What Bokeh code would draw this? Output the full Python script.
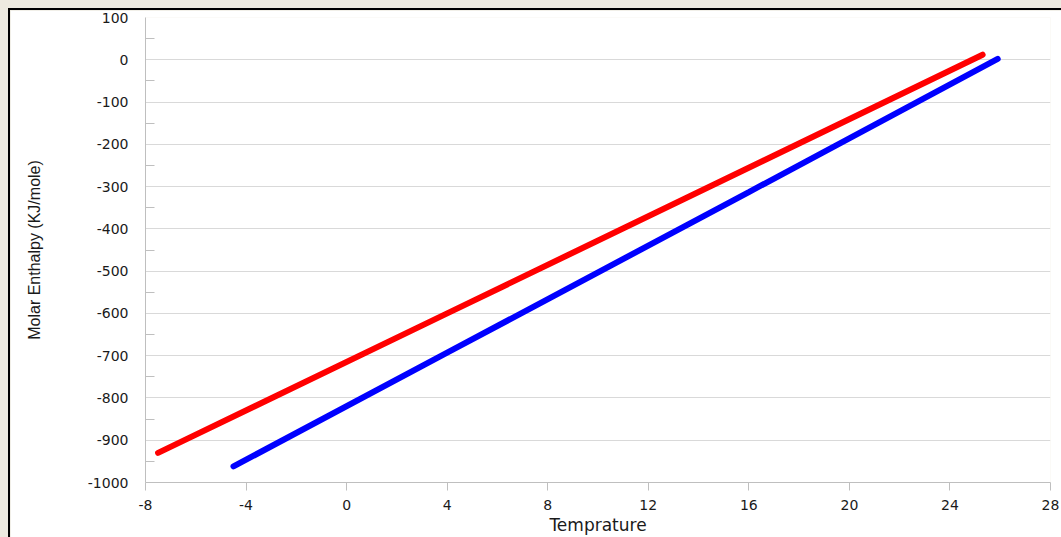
from bokeh.plotting import figure
from bokeh.models import FixedTicker, Range1d, PrintfTickFormatter
from bokeh.embed import file_html
from bokeh.resources import INLINE

# Data
red_temp = [-7.5, 4.0, 25.3]
red_enthalpy = [-930, -600, 12]
blue_temp = [-4.5, 4.0, 16.0, 25.9]
blue_enthalpy = [-962, -693, -313, 2]

x_ticks = [-8, -4, 0, 4, 8, 12, 16, 20, 24, 28]
y_ticks = [-1000, -900, -800, -700, -600, -500, -400, -300, -200, -100, 0, 100]
y_minor = [-950, -850, -750, -650, -550, -450, -350, -250, -150, -50, 50]

p = figure(width=1053, height=535, output_backend="svg", toolbar_location=None,
           x_range=Range1d(-8, 28), y_range=Range1d(-1000, 100),
           min_border_left=135, min_border_right=13, min_border_top=7, min_border_bottom=63)
p.styles = {"border-left": "2px solid black", "border-top": "2px solid black"}
p.background_fill_color = "white"
p.border_fill_color = "white"
p.outline_line_color = None

p.line(red_temp, red_enthalpy, line_color="#FF0000", line_width=6, line_cap="round")
p.line(blue_temp, blue_enthalpy, line_color="#0000FF", line_width=6, line_cap="round")

# X axis
xa = p.xaxis[0]
xa.ticker = FixedTicker(ticks=x_ticks)
xa.formatter = PrintfTickFormatter(format="%d")
xa.major_tick_in = 0
xa.major_tick_out = 8
xa.minor_tick_out = 0
xa.minor_tick_in = 0
xa.axis_line_color = "#BFBFBF"
xa.major_tick_line_color = "#BFBFBF"
xa.major_label_text_font = "DejaVu Sans"
xa.major_label_text_font_size = "14px"
xa.major_label_text_color = "#1A1A1A"
xa.major_label_standoff = 9
xa.axis_label = "Temprature"
xa.axis_label_text_font = "DejaVu Sans"
xa.axis_label_text_font_size = "17px"
xa.axis_label_text_font_style = "normal"
xa.axis_label_text_color = "#1A1A1A"
xa.axis_label_standoff = 2

# Y axis
ya = p.yaxis[0]
ya.ticker = FixedTicker(ticks=y_ticks, minor_ticks=y_minor)
ya.formatter = PrintfTickFormatter(format="%d")
ya.major_tick_in = 0
ya.major_tick_out = 0
ya.minor_tick_in = 9
ya.minor_tick_out = 0
ya.axis_line_color = "#BFBFBF"
ya.minor_tick_line_color = "#BFBFBF"
ya.major_label_text_font = "DejaVu Sans"
ya.major_label_text_font_size = "14px"
ya.major_label_text_color = "#1A1A1A"
ya.major_label_standoff = 17
ya.axis_label = "Molar Enthalpy (KJ/mole)"
ya.axis_label_text_font = "Liberation Sans"
ya.axis_label_text_font_size = "16px"
ya.axis_label_text_font_style = "normal"
ya.axis_label_text_color = "#1A1A1A"
ya.axis_label_standoff = 42

p.xgrid.grid_line_color = None
p.ygrid.grid_line_color = "#D9D9D9"
p.ygrid.ticker = FixedTicker(ticks=y_ticks)

html = file_html(p, INLINE)
css = ("<style>html, body { margin: 0 !important; padding: 0 !important; "
       "background-color: #EDEAE0 !important; overflow: hidden; } "
       "body { padding: 8px 0 0 8px !important; }</style>")
html = html.replace("</head>", css + "</head>", 1)
open("out.html", "w").write(html)
